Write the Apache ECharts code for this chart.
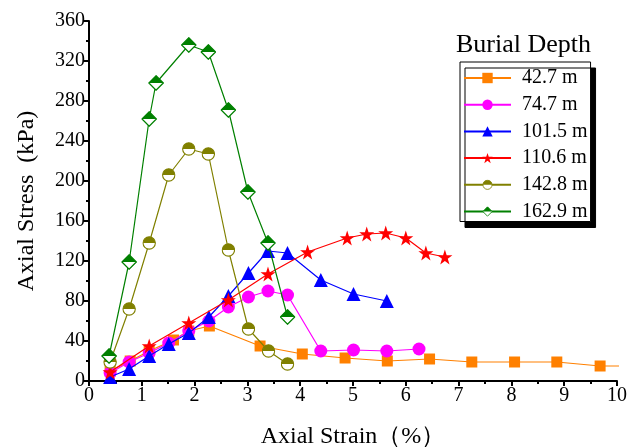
<!DOCTYPE html>
<html>
<head>
<meta charset="utf-8">
<script src="https://cdn.jsdelivr.net/npm/echarts@6/dist/echarts.min.js"></script>
<style>
html,body{margin:0;padding:0;background:#fff;}
#chart{width:628px;height:448px;}
</style>
</head>
<body>
<div id="chart"></div>
<script>
var seriesNames = ['42.7 m', '74.7 m', '101.5 m', '110.6 m', '142.8 m', '162.9 m'];
var seriesColors = ['#FF8000', '#FF00FF', '#0000FF', '#FF0000', '#808000', '#008000'];

var d427 = [[0.40,10],[0.78,20],[1.14,30],[1.60,41],[1.89,50],[2.28,55],[3.24,35],[4.04,27],[4.85,23],[5.65,20],[6.45,22],[7.25,19],[8.06,19],[8.86,19],[9.68,15],[10.3,15]];
var d747 = [[0.40,8],[0.76,19],[1.14,28],[1.51,38],[1.89,50],[2.27,60],[2.64,74],[3.02,84],[3.39,90],[3.76,86],[4.39,30],[5.01,31],[5.64,30],[6.25,32]];
var d1015 = [[0.40,4],[0.76,12],[1.14,25],[1.51,37],[1.89,48],[2.27,64],[2.64,85],[3.02,108],[3.39,130],[3.76,128],[4.39,101],[5.01,87],[5.64,80]];
var d1106 = [[0.40,9],[1.14,35],[1.89,58],[2.64,81],[3.39,107],[4.14,129],[4.89,143],[5.26,147],[5.62,148],[6.00,143],[6.38,128],[6.74,124]];
var d1428 = [[0.40,19],[0.76,72],[1.14,138],[1.51,206],[1.89,232],[2.26,227],[2.64,131],[3.02,52],[3.40,30],[3.76,17]];
var d1629 = [[0.38,25],[0.76,119],[1.14,262],[1.27,298],[1.89,336],[2.26,329],[2.64,271],[3.01,189],[3.39,138],[3.76,64]];

var xTicks = [0, 10, 1];
var yTicks = [0, 360, 40];

function svgUri(s) { return 'image://data:image/svg+xml;charset=utf-8,' + encodeURIComponent(s); }
var halfCircle = svgUri('<svg xmlns="http://www.w3.org/2000/svg" width="20" height="20" viewBox="0 0 20 20"><circle cx="10" cy="10" r="8.8" fill="#fff" stroke="#808000" stroke-width="1.6"/><path d="M1.2,10 A8.8,8.8 0 0 1 18.8,10 Z" fill="#808000"/></svg>');
var halfDiamond = svgUri('<svg xmlns="http://www.w3.org/2000/svg" width="20" height="20" viewBox="0 0 20 20"><polygon points="10,1 19,10 10,19 1,10" fill="#fff" stroke="#008000" stroke-width="1.6"/><polygon points="10,1 19,10 1,10" fill="#008000"/></svg>');

var symbols = ['rect', 'circle', 'triangle', 'path://M50,0 L61.8,35.1 L98.9,35.1 L68.9,56.9 L80.3,92.1 L50,70.4 L19.7,92.1 L31.1,56.9 L1.1,35.1 L38.2,35.1 Z', halfCircle, halfDiamond];
var symbolSizes = [11, 13, 14, 15, 14, 16];
var datas = [d427, d747, d1015, d1106, d1428, d1629];

var font = "'Liberation Serif', 'Times New Roman', serif";

var series = [];
for (var i = 0; i < datas.length; i++) {
    series.push({
        name: seriesNames[i],
        type: 'line',
        data: datas[i],
        symbol: symbols[i],
        symbolSize: symbolSizes[i],
        showAllSymbol: true,
        clip: true,
        itemStyle: { color: seriesColors[i] },
        lineStyle: { color: seriesColors[i], width: 1.2 },
        z: 2 + i
    });
}

var chart = echarts.init(document.getElementById('chart'));
chart.setOption({
    animation: false,
    backgroundColor: '#fff',
    title: {
        text: 'Burial Depth',
        left: 451,
        top: 27,
        textStyle: { fontFamily: font, fontSize: 26, fontWeight: 'normal', color: '#000' }
    },
    legend: {
        orient: 'vertical',
        left: 460,
        top: 62,
        data: seriesNames,
        itemWidth: 47,
        itemHeight: 13,
        itemGap: 6.7,
        padding: [6, 3, 0, 3],
        borderColor: '#000',
        borderWidth: 1,
        backgroundColor: '#fff',
        shadowColor: '#000',
        shadowBlur: 0,
        shadowOffsetX: 5,
        shadowOffsetY: 6,
        textStyle: { fontFamily: font, fontSize: 20, color: '#000', padding: [0, 0, 0, 6] }
    },
    grid: { left: 89, right: 11, top: 21, bottom: 67, outerBoundsMode: 'none', containLabel: false },
    xAxis: {
        type: 'value',
        min: xTicks[0], max: xTicks[1], interval: xTicks[2],
        name: 'Axial Strain（%）',
        nameLocation: 'middle',
        nameGap: 44,
        nameTextStyle: { fontFamily: font, fontSize: 24, color: '#000' },
        axisLine: { show: true, lineStyle: { color: '#000', width: 2 } },
        axisTick: { show: true, length: 5, lineStyle: { color: '#000', width: 2 } },
        minorTick: { show: true, splitNumber: 2, length: 3, lineStyle: { color: '#000', width: 2 } },
        axisLabel: { fontFamily: font, fontSize: 20, color: '#000', margin: 5 },
        splitLine: { show: false }
    },
    yAxis: {
        type: 'value',
        min: yTicks[0], max: yTicks[1], interval: yTicks[2],
        name: 'Axial Stress  (kPa)',
        nameLocation: 'middle',
        nameGap: 50,
        nameTextStyle: { fontFamily: font, fontSize: 24, color: '#000' },
        axisLine: { show: true, lineStyle: { color: '#000', width: 2 } },
        axisTick: { show: true, length: 5, lineStyle: { color: '#000', width: 2 } },
        minorTick: { show: true, splitNumber: 2, length: 3, lineStyle: { color: '#000', width: 2 } },
        axisLabel: { fontFamily: font, fontSize: 20, color: '#000', margin: 4 },
        splitLine: { show: false }
    },
    series: series
});
</script>
</body>
</html>
